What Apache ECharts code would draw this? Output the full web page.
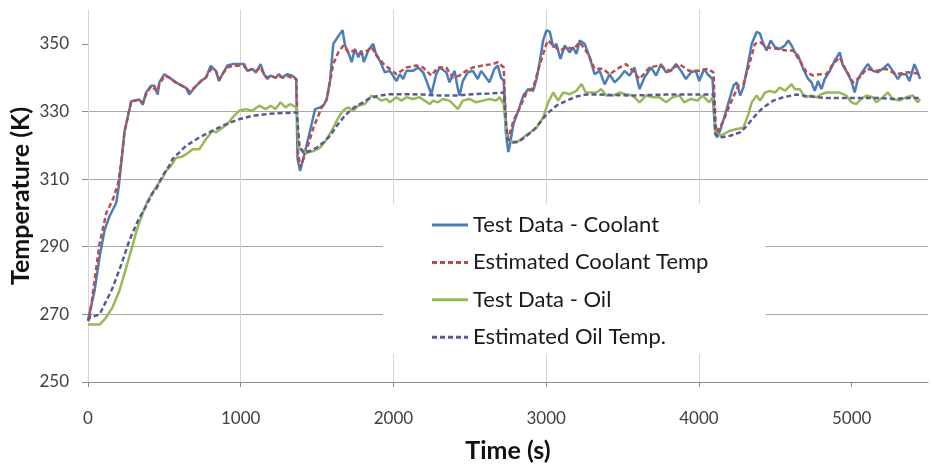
<!DOCTYPE html>
<html>
<head>
<meta charset="utf-8">
<script src="https://cdn.jsdelivr.net/npm/echarts@6/dist/echarts.min.js"></script>
<style>
html,body{margin:0;padding:0;background:#fff;}
#chart{width:932px;height:464px;}
</style>
</head>
<body>
<div id="chart"></div>
<script>
// ---- data (time s, temperature K) ----
const seriesNames = ['Test Data - Coolant', 'Estimated Coolant Temp', 'Test Data - Oil', 'Estimated Oil Temp.'];
const xTicks = [0, 1000, 2000, 3000, 4000, 5000];
const yTicks = [250, 270, 290, 310, 330, 350];

const coolantTest = [[0,268.3],[43,277],[76,287],[109,295],[141,299],[185,303],[202,308],[239,324],[283,333],[337,333.5],[359,332],[380,335.6],[413,337.6],[435,337.6],[456,335],[467,338.6],[500,341],[533,340],[576,338.6],[598,338],[641,337],[663,335],[696,337],[739,339],[772,340],[804,343.5],[837,342],[858,339],[880,341],[913,343.6],[946,344],[989,344],[1022,344],[1043,342],[1076,342.6],[1100,341.5],[1130,344],[1152,341],[1174,339.6],[1196,340.6],[1228,340],[1250,341],[1272,340],[1304,341],[1337,340.6],[1363,339.6],[1372,316],[1389,312.4],[1422,318.3],[1454,324.3],[1487,330.7],[1520,331.2],[1541,331.7],[1563,333.7],[1585,339.1],[1606,350],[1628,351.5],[1650,353],[1667,354],[1683,349.5],[1704,347.5],[1726,344.6],[1748,348.5],[1770,346],[1790,348],[1806,344.6],[1835,348],[1867,350],[1889,346.5],[1911,345],[1943,341.6],[1976,342],[2020,339],[2041,341],[2063,339.6],[2085,342],[2128,342],[2161,343],[2194,341.6],[2220,338.6],[2248,335.1],[2280,341],[2302,343],[2346,341.6],[2367,338.6],[2400,342],[2422,336.6],[2433,334.7],[2454,339],[2487,341.6],[2520,342],[2552,339.6],[2574,342],[2607,340],[2628,338.6],[2661,342.6],[2683,343.6],[2704,340],[2722,339],[2737,323.3],[2752,318],[2763,320.3],[2785,326.2],[2817,330.2],[2850,334.7],[2883,336.6],[2915,336.1],[2937,339.6],[2959,345],[2980,351],[3002,354],[3024,353.5],[3046,349],[3067,350],[3093,345.5],[3122,349.5],[3154,347.5],[3176,349],[3198,347],[3220,351],[3252,350],[3285,346],[3317,341],[3350,342],[3383,338],[3415,341],[3448,338.6],[3480,340],[3513,342],[3546,340.6],[3578,343],[3611,336.6],[3643,340],[3687,343],[3720,340.6],[3752,344],[3785,341.6],[3817,342],[3850,344],[3883,342],[3915,339.6],[3948,341.6],[3980,342],[4002,339],[4035,342.6],[4057,341],[4089,339.6],[4107,325.2],[4117,322.3],[4139,324.3],[4172,329.2],[4204,334.2],[4226,337.6],[4248,338.6],[4270,334.7],[4291,337.1],[4313,342],[4346,350],[4378,353.5],[4400,353],[4422,350],[4443,348],[4470,351],[4498,349],[4530,348.5],[4563,349.5],[4585,351],[4607,349.5],[4628,347.5],[4650,346.5],[4683,342.6],[4715,339.6],[4737,338.6],[4759,336.1],[4780,339],[4802,336.6],[4824,339.6],[4857,342],[4889,345],[4922,347.5],[4943,343.6],[4970,341.6],[4998,339],[5020,335.6],[5041,339.6],[5074,342],[5107,344],[5139,342],[5172,341.6],[5204,342.6],[5237,344],[5270,342],[5302,339.6],[5324,341],[5357,341],[5378,339],[5411,344],[5433,341.6],[5448,339.6]];

const coolantEst = [[10,269],[43,280],[76,291],[120,300],[163,304],[196,308.5],[215,314],[239,324],[283,333],[337,333.5],[359,332.5],[380,335],[413,337.5],[456,336],[467,338],[500,340.5],[533,340],[576,338.5],[598,338],[641,337],[663,336],[696,337],[739,339],[772,340],[804,342.5],[837,342],[858,339.5],[880,341],[913,343],[946,343.5],[989,343.5],[1022,343.5],[1043,342],[1076,342.5],[1100,342],[1130,343],[1152,341],[1174,340],[1196,340.5],[1228,340],[1250,340.5],[1272,340],[1304,340.5],[1337,340],[1365,339.5],[1375,318],[1390,313.5],[1422,317.3],[1476,325.2],[1530,331.2],[1563,333.5],[1606,344],[1639,347.5],[1672,349.5],[1704,347.5],[1748,348],[1790,347],[1830,348],[1857,349],[1900,346],[1943,343.6],[1976,342.6],[2020,341],[2085,343],[2150,343.6],[2194,343],[2248,340.6],[2291,343],[2346,343],[2389,340],[2433,340.6],[2476,342],[2520,343],[2585,343.6],[2650,344],[2683,344.6],[2722,343],[2737,326],[2752,322],[2785,327.2],[2828,331.2],[2872,335.6],[2915,337],[2959,344],[3002,350],[3013,351],[3046,349.5],[3090,348],[3133,349],[3180,348.5],[3220,350.5],[3274,347],[3317,342.6],[3372,342.6],[3415,341],[3480,343],[3524,344],[3567,342],[3611,339.6],[3676,343],[3741,343.6],[3807,342],[3872,344],[3937,342],[4002,342],[4057,342.6],[4095,341.6],[4110,326],[4117,323.8],[4161,327.2],[4204,332.2],[4259,337.6],[4291,338.1],[4324,343],[4367,350],[4400,350.5],[4443,349],[4509,348.5],[4574,348],[4617,348],[4661,345],[4704,341.6],[4748,340.6],[4791,341],[4835,341],[4878,344],[4922,346],[4965,342],[5009,338.6],[5052,340],[5096,342.6],[5161,342],[5226,342.6],[5291,341],[5357,341.6],[5400,341.5],[5448,341]];

const oilTest = [[0,267],[40,267],[76,267],[109,268.5],[160,272],[206,277],[245,283],[283,289],[320,295],[359,300],[390,303.5],[424,306],[456,308.4],[490,310.5],[511,312.4],[545,314],[576,316.3],[610,316.5],[641,317.3],[685,318.8],[728,318.8],[772,321.8],[815,324.3],[837,323.8],[880,325.2],[913,326.2],[946,328.2],[989,330.2],[1033,330.7],[1076,330.2],[1120,331.7],[1163,330.7],[1196,331.7],[1228,330.7],[1261,332.7],[1293,331.2],[1326,332.2],[1367,331],[1378,319.3],[1400,318.8],[1432,317.8],[1476,318.3],[1520,319.3],[1563,321.8],[1596,324.3],[1628,327.2],[1661,329.7],[1683,330.7],[1704,331.2],[1737,330.2],[1770,331.7],[1813,332.2],[1857,334.7],[1889,334.2],[1922,333.2],[1954,333.7],[1976,332.7],[2020,334.2],[2052,333.2],[2085,334.2],[2128,333.7],[2172,334.2],[2204,333.2],[2237,332.2],[2259,333.2],[2291,332.7],[2324,333.7],[2367,333.2],[2400,331.7],[2422,330.7],[2454,333.2],[2498,333.7],[2541,332.7],[2585,333.2],[2628,333.7],[2672,333.2],[2694,334.2],[2722,332.2],[2741,322.3],[2763,321.3],[2807,320.8],[2850,322.3],[2893,323.8],[2937,325.2],[2980,328.2],[3013,332.7],[3046,335.6],[3078,333.2],[3111,335.6],[3154,335.1],[3198,336.1],[3232,338.1],[3259,335.6],[3296,335.6],[3328,335.6],[3361,336.6],[3393,334.7],[3437,334.7],[3480,335.6],[3524,335.1],[3567,334.7],[3611,332.7],[3654,334.7],[3698,334.2],[3741,334.2],[3785,332.7],[3828,334.2],[3872,334.7],[3904,332.7],[3948,333.7],[3991,333.2],[4024,334.7],[4067,332.7],[4089,334.2],[4107,323.8],[4139,322.8],[4204,324.3],[4248,324.8],[4291,325.2],[4324,329.2],[4346,332.7],[4378,334.7],[4400,333.2],[4433,335.6],[4465,336.1],[4498,335.6],[4530,337.1],[4563,336.1],[4607,338.1],[4628,336.6],[4661,336.6],[4694,334.2],[4737,334.7],[4770,334.2],[4802,335.1],[4835,335.6],[4878,335.6],[4922,335.6],[4965,334.7],[4998,332.7],[5030,332.2],[5063,333.7],[5096,334.7],[5139,334.2],[5161,332.7],[5204,334.2],[5237,335.6],[5270,333.7],[5313,333.2],[5357,334.2],[5400,334.7],[5433,332.7],[5448,333.7]];

const oilEst = [[0,268],[11,269],[76,270],[120,274],[163,278],[220,285],[272,292],[330,298],[380,302],[424,306],[446,307],[489,311],[533,314],[554,316],[600,318],[641,319.8],[728,322.3],[815,324.3],[902,326.2],[989,327.7],[1076,328.7],[1163,329.2],[1250,329.5],[1367,329.7],[1385,319.3],[1411,317.8],[1454,318.3],[1498,319.3],[1541,320.8],[1585,322.8],[1628,325.7],[1672,328.2],[1715,330.2],[1759,331.7],[1802,332.7],[1846,334],[1911,334.7],[1976,335.1],[2085,335.1],[2194,335],[2302,334.7],[2411,334.7],[2520,335.1],[2628,335.3],[2722,335.6],[2746,321.8],[2785,320.8],[2828,321.3],[2872,322.8],[2915,324.3],[2959,326.7],[3002,329.2],[3067,331.7],[3133,333.2],[3198,334.4],[3263,335],[3350,335],[3567,334.7],[3785,335],[4002,335],[4095,335],[4107,323.3],[4139,322.3],[4204,322.8],[4270,323.8],[4313,325.7],[4357,328.2],[4422,331.2],[4487,333.2],[4552,334.2],[4639,335],[4726,334.4],[4835,334],[4943,334],[5052,334],[5161,334],[5270,333.7],[5378,334],[5448,334]];

// ---- chart ----
const FONT = 'Lato, "Open Sans", sans-serif';
const chart = echarts.init(document.getElementById('chart'), null, {renderer: 'canvas'});
const colors = ['#4A7EBB', '#BE4B48', '#98B954', '#565A9C'];
const dash = [null, [5, 3], null, [5, 3]];
const datas = [coolantTest, coolantEst, oilTest, oilEst];
// legend icons: solid bar or dashed bars (36 x 3 box)
const solidIcon = 'path://M0,0L36,0L36,3L0,3Z';
const dashIcon = 'path://M0,0L5,0L5,3L0,3Z M8,0L13,0L13,3L8,3Z M16,0L21,0L21,3L16,3Z M24,0L29,0L29,3L24,3Z M32,0L36,0L36,3L32,3Z';

chart.setOption({
  animation: false,
  backgroundColor: '#ffffff',
  textStyle: {fontFamily: FONT},
  grid: {left: 88, right: 4, top: 10, bottom: 82, containLabel: false, outerBoundsMode: 'none'},
  legend: {
    data: seriesNames.map((n, i) => ({name: n, icon: dash[i] ? dashIcon : solidIcon})),
    orient: 'vertical',
    left: 383, top: 204,
    padding: [9, 57, 5, 49],
    itemGap: 13.4,
    itemWidth: 36, itemHeight: 3,
    backgroundColor: '#ffffff',
    textStyle: {fontFamily: FONT, fontSize: 22, lineHeight: 24, color: '#1a1a1a'}
  },
  xAxis: {
    type: 'value', min: 0, max: 5500, interval: 200,
    name: 'Time (s)', nameLocation: 'middle', nameGap: 56,
    nameTextStyle: {fontFamily: FONT, fontSize: 25, fontWeight: 'bold', color: '#111'},
    axisLine: {show: true, lineStyle: {color: '#8c8c8c', width: 1}},
    axisTick: {show: true, length: 5, customValues: xTicks, lineStyle: {color: '#8c8c8c'}},
    axisLabel: {customValues: xTicks, margin: 28, fontFamily: FONT, fontSize: 17, color: '#404040', formatter: v => String(v)},
    splitLine: {show: true, showMaxLine: false, lineStyle: {color: '#d6d6d6', width: 1}}
  },
  yAxis: {
    type: 'value', min: 250, max: 360, interval: 20,
    name: 'Temperature (K)', nameLocation: 'middle', nameGap: 55, nameMoveOverlap: false,
    nameTextStyle: {fontFamily: FONT, fontSize: 25, fontWeight: 'bold', color: '#111'},
    axisLine: {show: false},
    axisTick: {show: true, length: 6, customValues: yTicks, lineStyle: {color: '#8c8c8c'}},
    axisLabel: {customValues: yTicks, margin: 19, fontFamily: FONT, fontSize: 17, color: '#404040', formatter: v => String(v)},
    splitLine: {show: true, showMaxLine: false, lineStyle: {color: '#a8a8a8', width: 1}}
  },
  series: seriesNames.map((n, i) => ({
    name: n, type: 'line', data: datas[i],
    showSymbol: false, symbol: 'none',
    color: colors[i],
    itemStyle: {color: colors[i]},
    lineStyle: {color: colors[i], width: 2.5, type: dash[i] ? dash[i] : 'solid'},
    z: 2 + i
  }))
});
</script>
</body>
</html>
